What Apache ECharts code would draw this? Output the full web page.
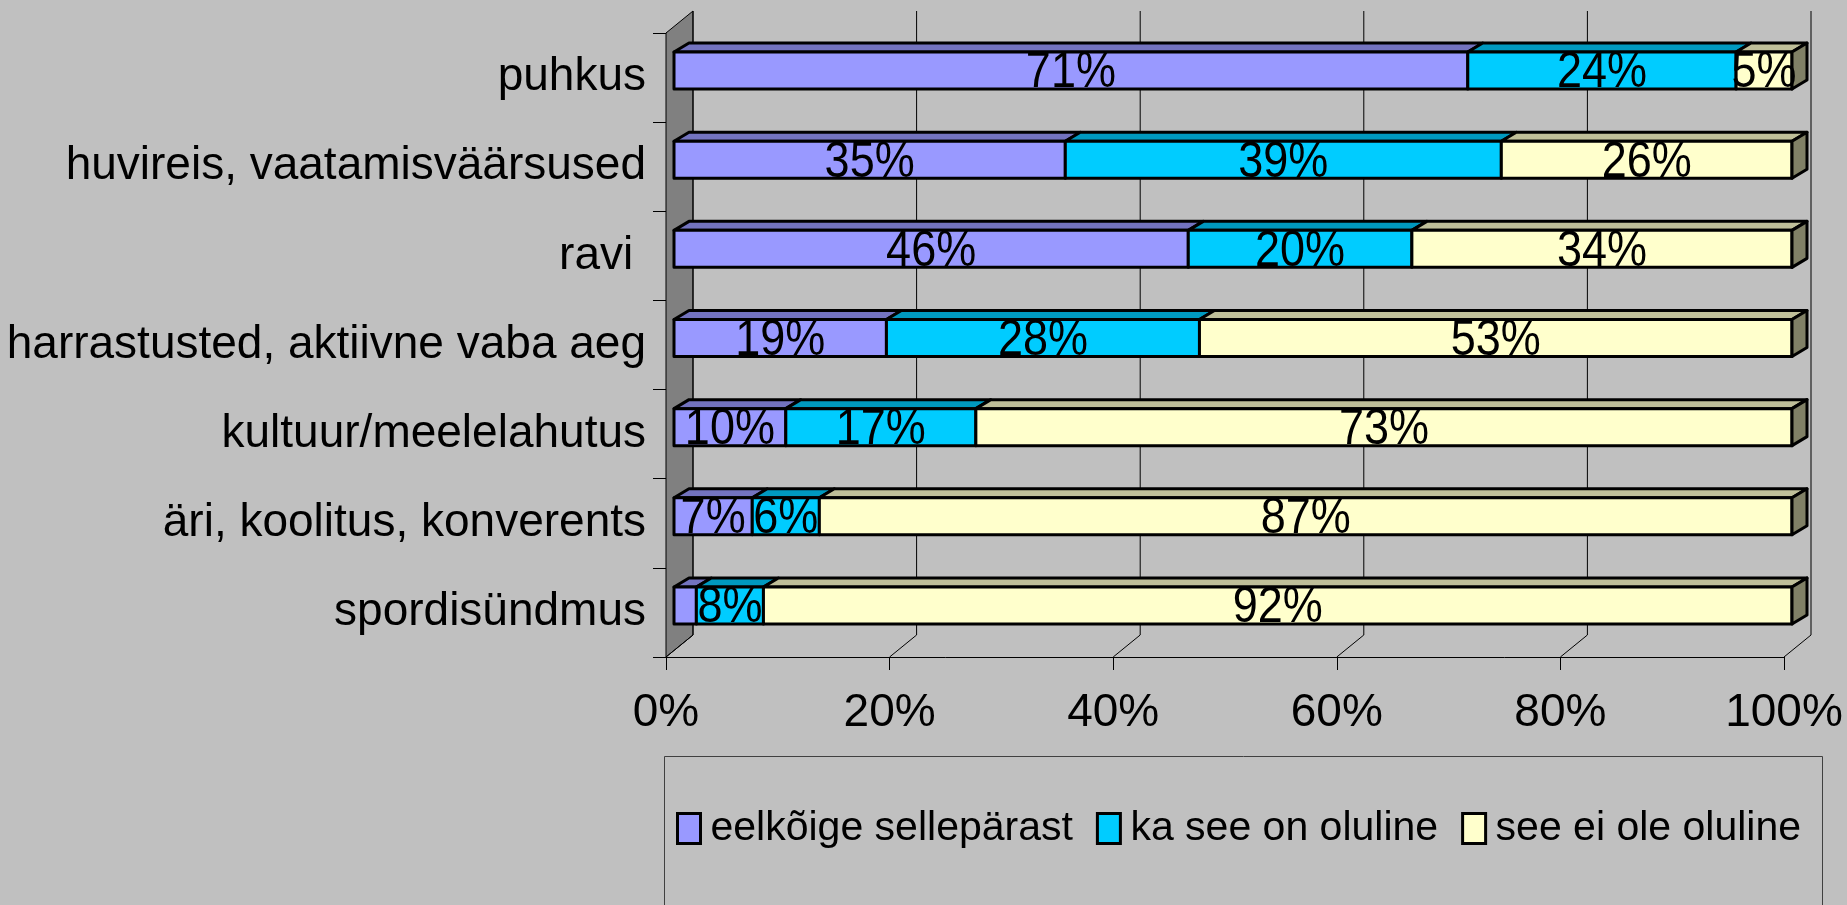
<!DOCTYPE html>
<html>
<head>
<meta charset="utf-8">
<script src="https://cdn.jsdelivr.net/npm/echarts@6/dist/echarts.min.js"></script>
<style>
  html, body { margin: 0; padding: 0; background: #c0c0c0; }
  #chart { width: 1847px; height: 905px; }
</style>
</head>
<body>
<div id="chart"></div>
<script>
  // kategooriad ülevalt alla
  var categories = ['puhkus', 'huvireis, vaatamisväärsused', 'ravi ', 'harrastusted, aktiivne vaba aeg', 'kultuur/meelelahutus', 'äri, koolitus, konverents', 'spordisündmus'];
  var seriesNames = ['eelkõige sellepärast', 'ka see on oluline', 'see ei ole oluline'];
  var eelkoige = [71, 35, 46, 19, 10, 7, 2];
  var kaOluline = [24, 39, 20, 28, 17, 6, 6];
  var eiOluline = [5, 26, 34, 53, 73, 87, 92];
  // sildid nagu joonisel (spordisündmuse esimesel lõigul silti pole)
  var eelkoigeLabels = ['71%', '35%', '46%', '19%', '10%', '7%', ''];
  var kaOlulineLabels = ['24%', '39%', '20%', '28%', '17%', '6%', '8%'];
  var eiOlulineLabels = ['5%', '26%', '34%', '53%', '73%', '87%', '92%'];
  var xTicks = [0, 20, 40, 60, 80, 100];

  var values = [eelkoige, kaOluline, eiOluline];
  var labels = [eelkoigeLabels, kaOlulineLabels, eiOlulineLabels];
  var colors = ['#9999ff', '#00ccff', '#ffffcc'];
  var topColors = ['#7373bf', '#0099bf', '#bfbf99'];
  var sideColor = '#808066';
  var FONT = '"Liberation Sans", Arial, sans-serif';
  var BAR = 0.415;        // tulba paksus kategooria kõrgusest
  var FRONT = [8, -7];    // tulba esikülje nihe
  var BACK = [23, -16];   // tulba tagakülje nihe
  var WALL = [27, -22];   // tagaseina nihe

  function segData (s) {
    return categories.map(function (c, i) {
      var start = 0
      for (var k = 0; k < s; k++) start += values[k][i]
      return [i, start, start + values[s][i]]
    })
  }

  function barItem (s) {
    return function (params, api) {
      var i = api.value(0)
      var a = api.coord([api.value(1), i])
      var b = api.coord([api.value(2), i])
      var h = api.size([0, 1])[1] * BAR
      var x0 = a[0] + FRONT[0], x1 = b[0] + FRONT[0]
      var y0 = a[1] + FRONT[1] - h / 2, y1 = y0 + h
      var dx = BACK[0] - FRONT[0], dy = BACK[1] - FRONT[1]
      var line = { stroke: '#000', lineWidth: 3, lineJoin: 'round' }
      var kids = [
        { type: 'polygon', shape: { points: [[x0, y0], [x1, y0], [x1 + dx, y0 + dy], [x0 + dx, y0 + dy]] }, style: Object.assign({ fill: topColors[s] }, line) },
        { type: 'rect', shape: { x: x0, y: y0, width: x1 - x0, height: h }, style: Object.assign({ fill: colors[s] }, line) }
      ]
      if (s === values.length - 1) {
        kids.push({ type: 'polygon', shape: { points: [[x1, y0], [x1 + dx, y0 + dy], [x1 + dx, y1 + dy], [x1, y1]] }, style: Object.assign({ fill: sideColor }, line) })
      }
      // tekst on joonisel veidi kõrgem kui lai
      kids.push({
        type: 'text', z2: 100, x: (x0 + x1) / 2, y: (y0 + y1) / 2 + 3, scaleY: 1.12,
        style: { text: labels[s][params.dataIndex], x: 0, y: 0, align: 'center', verticalAlign: 'middle', font: '45px ' + FONT, fill: '#000' }
      })
      return { type: 'group', children: kids }
    }
  }

  function wallItem (params, api) {
    var cs = params.coordSys
    var yT = cs.y, yB = cs.y + cs.height
    var x0 = api.coord([0, 0])[0]
    var kids = [{
      type: 'polygon',
      shape: { points: [[x0, yT], [x0 + WALL[0], yT + WALL[1]], [x0 + WALL[0], yB + WALL[1]], [x0, yB]] },
      style: { fill: '#808080', stroke: '#000', lineWidth: 1 }
    }]
    xTicks.forEach(function (v) {
      var x = api.coord([v, 0])[0]
      kids.push({ type: 'line', shape: { x1: x, y1: yB, x2: x + WALL[0], y2: yB + WALL[1] }, style: { stroke: '#000', lineWidth: 1 } })
      kids.push({ type: 'line', shape: { x1: x + WALL[0], y1: yB + WALL[1], x2: x + WALL[0], y2: yT + WALL[1] }, style: { stroke: '#000', lineWidth: 1 } })
    })
    return { type: 'group', children: kids }
  }

  var chart = echarts.init(document.getElementById('chart'))
  var series = [{
    type: 'custom', name: 'wall', z: 1, silent: true,
    renderItem: wallItem, data: [[0, 0]], encode: { x: 0, y: 1 }
  }]
  seriesNames.forEach(function (n, s) {
    series.push({
      type: 'custom', name: n, z: 2,
      itemStyle: { color: colors[s] },
      renderItem: barItem(s),
      data: segData(s),
      encode: { x: [1, 2], y: 0 }
    })
  })

  var option = {
    backgroundColor: '#c0c0c0',
    animation: false,
    grid: { left: 666, right: 63, top: 33, bottom: 248 },
    xAxis: {
      type: 'value', min: 0, max: 100, interval: 20,
      axisLine: { show: true, lineStyle: { color: '#000', width: 1 } },
      axisTick: { show: true, length: 13, lineStyle: { color: '#000' } },
      splitLine: { show: false },
      axisLabel: { formatter: '{value}%', fontSize: 46, fontFamily: FONT, color: '#000', margin: 33 }
    },
    yAxis: {
      type: 'category', data: categories, inverse: true,
      axisLine: { show: true, lineStyle: { color: '#000', width: 1 } },
      axisTick: { show: true, length: 13, lineStyle: { color: '#000' } },
      axisLabel: { fontSize: 46, fontFamily: FONT, color: '#000', margin: 20, padding: [10, 0, 0, 0] }
    },
    legend: {
      left: 671, top: 803, itemWidth: 23, itemHeight: 30, itemGap: 23,
      icon: 'rect', selectedMode: false,
      textStyle: { fontSize: 41, fontFamily: FONT, color: '#000', padding: [0, 0, 0, 5] },
      data: seriesNames.map(function (n, k) {
        return { name: n, itemStyle: { color: colors[k], borderColor: '#000', borderWidth: 3 } }
      })
    },
    graphic: [{
      type: 'rect', left: 662, top: 754, silent: true,
      shape: { width: 1158, height: 200 },
      style: { fill: 'none', stroke: '#404040', lineWidth: 1 }
    }],
    series: series
  }
  chart.setOption(option)
</script>
</body>
</html>
